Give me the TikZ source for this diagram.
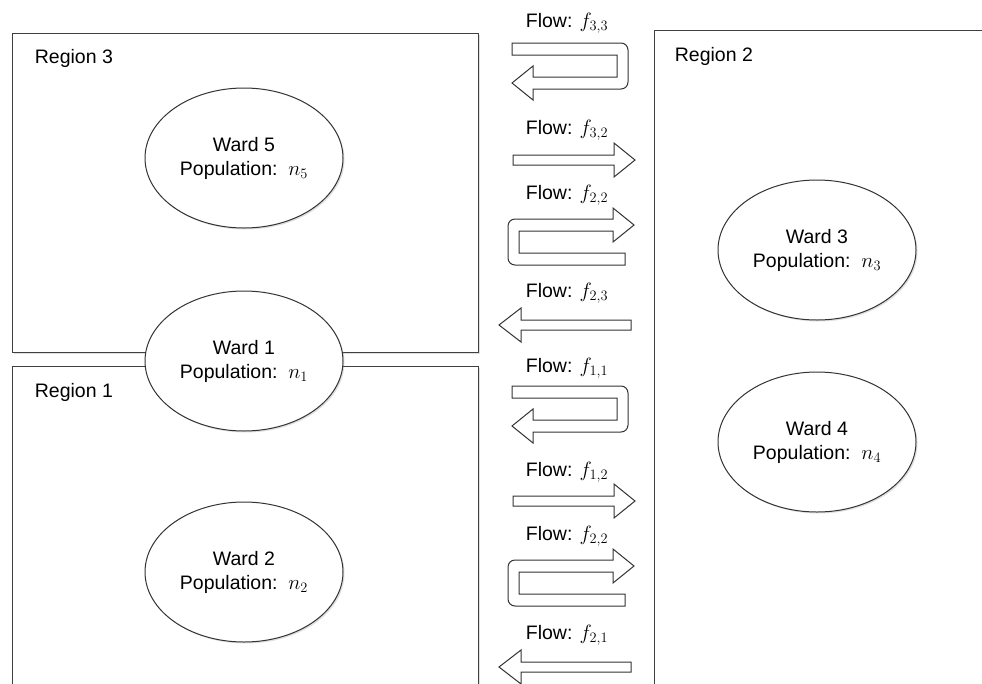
\documentclass[tikz,border=0pt]{standalone}
\usepackage{fontspec}
\setmainfont{Liberation Sans}
\usetikzlibrary{shapes.geometric,shadows}
\newcommand{\wardfont}{\fontsize{19.5}{24}\selectfont}

\begin{document}
\begin{tikzpicture}[x=1pt,y=-1pt,line width=1pt,
    region/.style={draw=black!75,fill=white,drop shadow={opacity=0.25,shadow xshift=1.5pt,shadow yshift=-1.5pt}},
    ward/.style={draw=black!80,fill=white,ellipse,minimum width=198pt,minimum height=140pt,align=center,font=\wardfont,
        drop shadow={opacity=0.25,shadow xshift=1.5pt,shadow yshift=-1.5pt}},
    regionlabel/.style={anchor=west,font=\wardfont},
    flow/.style={draw=black!80,fill=white},
    flowlabel/.style={font=\wardfont}]
    \clip (0,0) rectangle (982,683);
    %% Regions
    \draw[region] (12,33) rectangle (478,352);
    \draw[region] (12,366) rectangle (478,700);
    \draw[region] (654,30) rectangle (1000,700);
    \node[regionlabel] (r3) at (31,58) {Region 3};
    \node[regionlabel] (r1) at (31,392) {Region 1};
    \node[regionlabel] (r2) at (671,56) {Region 2};
    %% Wards
    \node[ward] (ward5) at (244,158) {Ward 5\\Population:\ \ $n_5$};
    \node[ward] (ward1) at (244,361) {Ward 1\\Population:\ \ $n_1$};
    \node[ward] (ward2) at (244,572) {Ward 2\\Population:\ \ $n_2$};
    \node[ward] (ward3) at (817,250) {Ward 3\\Population:\ \ $n_3$};
    \node[ward] (ward4) at (817,442) {Ward 4\\Population:\ \ $n_4$};
    %% Flows
    \node[flowlabel] (f33) at (567,23) {Flow: $f_{3,3}$};
    \begin{scope}[shift={(0,43)}]
        \draw[flow] (512,0) -- (600,0) [rounded corners=7pt] -- (628,0) -- (628,46) -- (600,46) [sharp corners] -- (533,46) -- (533,57) -- (512,40) -- (533,23) -- (533,34) -- (617,34) -- (617,12) -- (512,12) -- cycle;
    \end{scope}
    \node[flowlabel] (f32) at (567,130) {Flow: $f_{3,2}$};
    \begin{scope}[shift={(0,160)}]
        \draw[flow] (513,-5) -- (614,-5) -- (614,-17) -- (635,0) -- (614,17) -- (614,5) -- (513,5) -- cycle;
    \end{scope}
    \node[flowlabel] (f22a) at (567,195) {Flow: $f_{2,2}$};
    \begin{scope}[shift={(0,219)}]
        \draw[flow] (625,46) -- (540,46) [rounded corners=7pt] -- (508,46) -- (508,0) -- (540,0) [sharp corners] -- (613,0) -- (613,-11) -- (634,6) -- (613,23) -- (613,12) -- (519,12) -- (519,34) -- (625,34) -- cycle;
    \end{scope}
    \node[flowlabel] (f23) at (567,293) {Flow: $f_{2,3}$};
    \begin{scope}[shift={(0,325)}]
        \draw[flow] (631,-5) -- (521,-5) -- (521,-17) -- (499,0) -- (521,17) -- (521,5) -- (631,5) -- cycle;
    \end{scope}
    \node[flowlabel] (f11) at (567,368) {Flow: $f_{1,1}$};
    \begin{scope}[shift={(0,386)}]
        \draw[flow] (512,0) -- (600,0) [rounded corners=7pt] -- (628,0) -- (628,46) -- (600,46) [sharp corners] -- (533,46) -- (533,57) -- (512,40) -- (533,23) -- (533,34) -- (617,34) -- (617,12) -- (512,12) -- cycle;
    \end{scope}
    \node[flowlabel] (f12) at (567,472) {Flow: $f_{1,2}$};
    \begin{scope}[shift={(0,501)}]
        \draw[flow] (513,-5) -- (614,-5) -- (614,-17) -- (635,0) -- (614,17) -- (614,5) -- (513,5) -- cycle;
    \end{scope}
    \node[flowlabel] (f22b) at (567,536) {Flow: $f_{2,2}$};
    \begin{scope}[shift={(0,560)}]
        \draw[flow] (625,46) -- (540,46) [rounded corners=7pt] -- (508,46) -- (508,0) -- (540,0) [sharp corners] -- (613,0) -- (613,-11) -- (634,6) -- (613,23) -- (613,12) -- (519,12) -- (519,34) -- (625,34) -- cycle;
    \end{scope}
    \node[flowlabel] (f21) at (567,635) {Flow: $f_{2,1}$};
    \begin{scope}[shift={(0,667)}]
        \draw[flow] (631,-5) -- (521,-5) -- (521,-17) -- (499,0) -- (521,17) -- (521,5) -- (631,5) -- cycle;
    \end{scope}
\end{tikzpicture}
\end{document}
